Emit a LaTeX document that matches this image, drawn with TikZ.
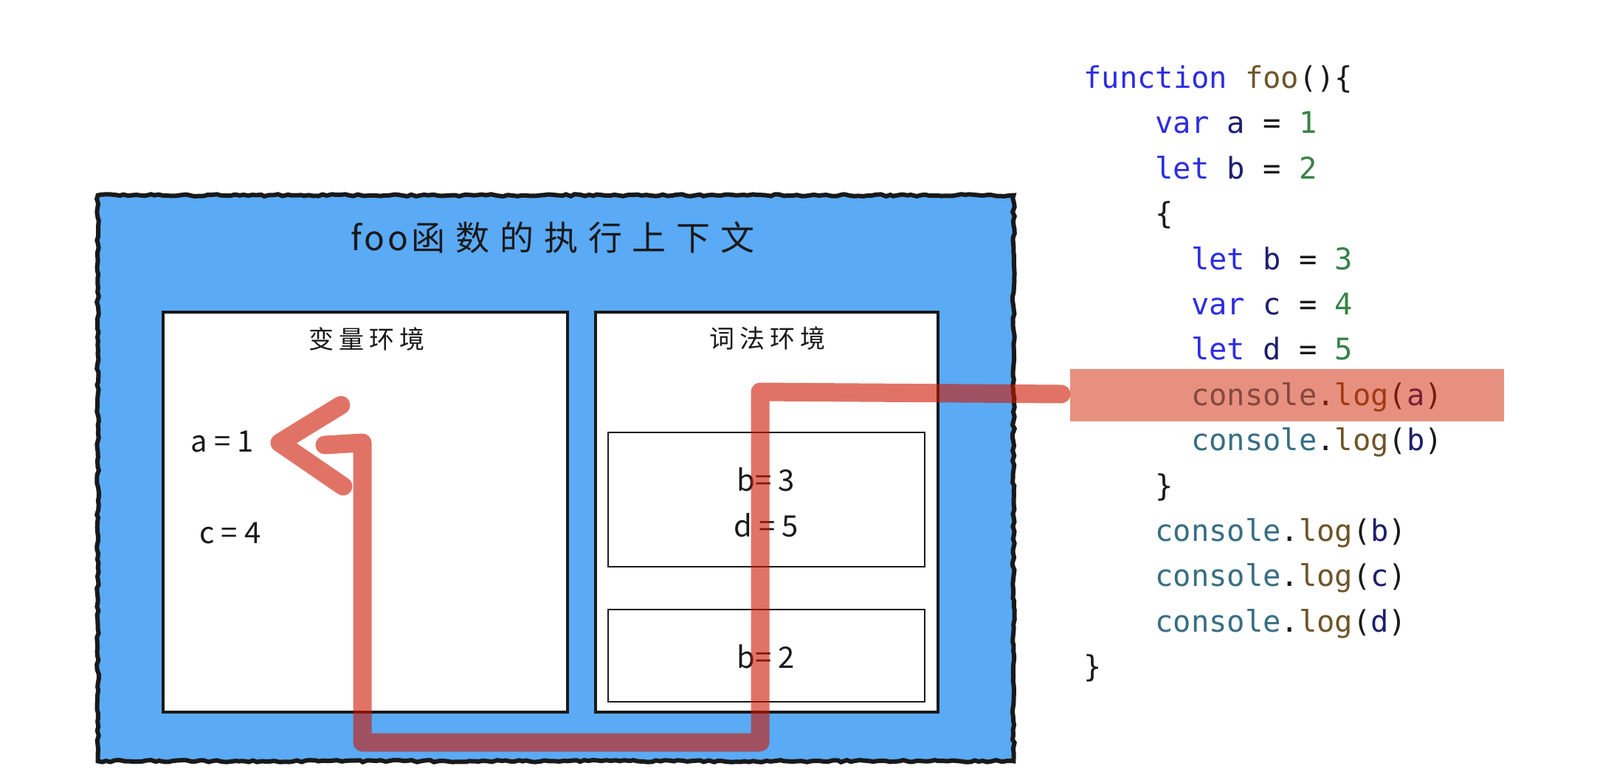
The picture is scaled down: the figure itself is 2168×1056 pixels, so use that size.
\documentclass[tikz,border=0pt]{standalone}
\usepackage{fontspec}
\setmainfont{Noto Sans CJK SC}
\newfontfamily\cjktitle[LetterSpace=30]{Noto Sans CJK SC}
\newfontfamily\lattitle[LetterSpace=8]{Noto Sans CJK SC}
\newfontfamily\cjksub[LetterSpace=20]{Noto Sans CJK SC}
\newfontfamily\codefont{DejaVu Sans Mono}
\usetikzlibrary{decorations.pathmorphing}
\definecolor{bluebg}{RGB}{90,170,245}
\definecolor{redpen}{RGB}{205,22,0}
\definecolor{hlred}{RGB}{210,35,0}
\definecolor{kwblue}{RGB}{45,45,225}
\definecolor{foobrown}{RGB}{110,85,40}
\definecolor{idnavy}{RGB}{30,30,110}
\definecolor{numgreen}{RGB}{55,130,70}
\definecolor{conteal}{RGB}{55,110,130}
\definecolor{inkblack}{RGB}{25,25,25}
\newcommand\kwc[1]{\textcolor{kwblue}{#1}}
\newcommand\fooc[1]{\textcolor{foobrown}{#1}}
\newcommand\idc[1]{\textcolor{idnavy}{#1}}
\newcommand\numc[1]{\textcolor{numgreen}{#1}}
\newcommand\conc[1]{\textcolor{conteal}{#1}}
\newcommand\punc[1]{\textcolor{inkblack}{#1}}
\newcommand\clog[1]{\conc{console}\punc{.}\fooc{log}\punc{(}\idc{#1}\punc{)}}
\begin{document}
\begin{tikzpicture}[x=0.5pt,y=-0.5pt,
  whitebox/.style={draw=inkblack, fill=white, line width=1.6pt, inner sep=0pt},
  innerbox/.style={draw=inkblack, fill=white, line width=1.3pt, inner sep=0pt},
  label/.style={inner sep=0pt, text=inkblack, font=\fontsize{20}{24}\selectfont},
  subtitle/.style={inner sep=0pt, text=inkblack, font=\cjksub\fontsize{17}{20}\selectfont},
  code/.style={anchor=base west, inner sep=0pt, font=\codefont\fontsize{20.2}{24}\selectfont},
  redline/.style={draw=redpen, opacity=0.6, line width=12.5pt, line cap=round, line join=round},
  sketch/.style={draw=inkblack, line width=3pt, decorate, decoration={random steps, segment length=3pt, amplitude=0.7pt}}
]
\useasboundingbox[fill=white] (0,0) rectangle (2168,1056);

% outer execution context
\node[fill=bluebg, inner sep=0pt, minimum width=620pt, minimum height=383pt] (outer) at (753,648) {};
\draw[sketch] (outer.north west) rectangle (outer.south east);
\node[inner sep=0pt, text=inkblack, anchor=west, font=\fontsize{23}{28}\selectfont] (title) at (475,322) {{\lattitle foo}\hspace{2.5pt}{\cjktitle 函数的执行上下文}};

% variable environment
\node[whitebox, minimum width=274pt, minimum height=271pt] (varenv) at (495,694) {};
\node[subtitle] (vartitle) at (497,459) {变量环境};
\node[label] (la) at (301,598) {a = 1};
\node[label] (lc) at (312,722) {c = 4};

% lexical environment
\node[whitebox, minimum width=232pt, minimum height=271pt] (lexenv) at (1039,694) {};
\node[subtitle] (lextitle) at (1040,459) {词法环境};
\node[innerbox, minimum width=214.5pt, minimum height=91pt] (block1) at (1038.5,677) {};
\node[innerbox, minimum width=214.5pt, minimum height=62.5pt] (block2) at (1038.5,888.5) {};
\node[label] (lb3) at (1038,650) {b= 3};
\node[label] (ld5) at (1038,712) {d = 5};
\node[label] (lb2) at (1038,890) {b= 2};

% code
\node[code] (c0) at (1468,119.5) {\kwc{function} \fooc{foo}\punc{()\{}};
\node[code] (c1) at (1565.2,180.9) {\kwc{var} \idc{a} \punc{=} \numc{1}};
\node[code] (c2) at (1565.2,242.3) {\kwc{let} \idc{b} \punc{=} \numc{2}};
\node[code] (c3) at (1565.2,303.7) {\punc{\{}};
\node[code] (c4) at (1613.8,365.1) {\kwc{let} \idc{b} \punc{=} \numc{3}};
\node[code] (c5) at (1613.8,426.5) {\kwc{var} \idc{c} \punc{=} \numc{4}};
\node[code] (c6) at (1613.8,487.9) {\kwc{let} \idc{d} \punc{=} \numc{5}};
\node[code] (c7) at (1613.8,549.3) {\clog{a}};
\node[code] (c8) at (1613.8,610.7) {\clog{b}};
\node[code] (c9) at (1565.2,672.1) {\punc{\}}};
\node[code] (c10) at (1565.2,733.5) {\clog{b}};
\node[code] (c11) at (1565.2,794.9) {\clog{c}};
\node[code] (c12) at (1565.2,856.3) {\clog{d}};
\node[code] (c13) at (1468,917.7) {\punc{\}}};

% highlight of the current line
\node[fill=hlred, fill opacity=0.5, inner sep=0pt, minimum width=294pt, minimum height=35.5pt] (hl) at (1744,535.5) {};

% lookup path
\coordinate (p0) at (1438,534);
\coordinate (p1) at (1030,531);
\coordinate (p2) at (1030,1006);
\coordinate (p3) at (491,1006);
\coordinate (p4) at (491,600);
\coordinate (p5) at (440,603);
\coordinate (tip) at (379,600);
\coordinate (armU) at (462,549);
\coordinate (armL) at (465,659);
\draw[redline] (p0) -- (p1) -- (p2) -- (p3) -- (p4) -- (p5) (armU) -- (tip) -- (armL);
\end{tikzpicture}
\end{document}
